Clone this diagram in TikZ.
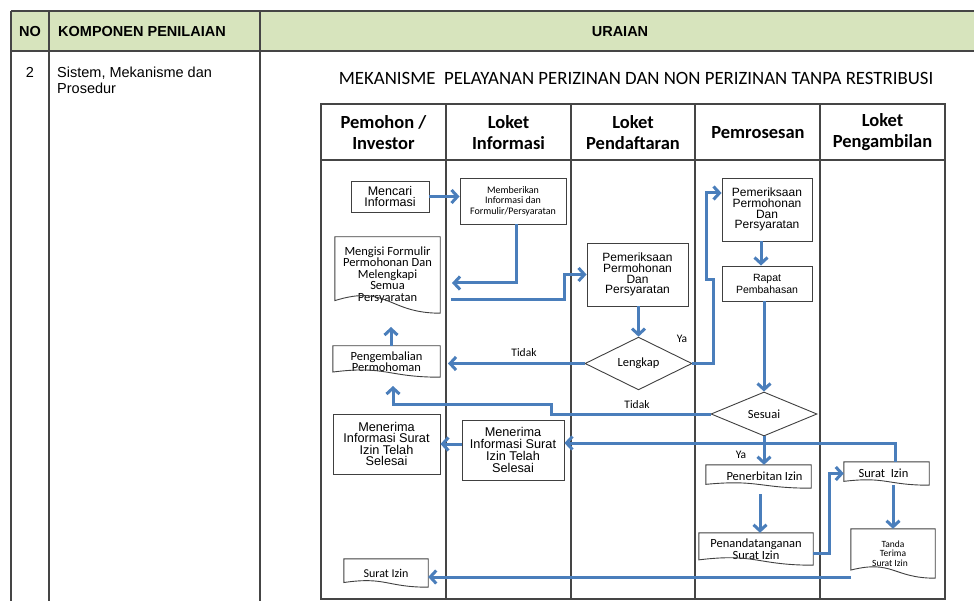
\documentclass[tikz,border=0pt]{standalone}
\usepackage{fontspec}
\setmainfont{Carlito}
\newfontfamily\arialf{Liberation Sans}
\usetikzlibrary{shapes.geometric,arrows.meta,calc}
\definecolor{hdrgreen}{HTML}{D7E4BD}
\definecolor{flowblue}{HTML}{4A7EBB}
\definecolor{linegray}{HTML}{404040}
\definecolor{tablegray}{HTML}{454545}
\newcommand\fs[2]{\fontsize{#1}{#2}\selectfont}
\newcommand\docoutline[1]{%
  \draw[draw=linegray, line width=0.9pt, line join=miter] let \p1=(#1.north), \p2=(#1.south), \n1={\y1-\y2} in
  (#1.south east) -- (#1.north east) -- (#1.north west) -- ($(#1.south west)+(0,0.1646*\n1)$)
  .. controls ($(#1.south)+(0,0.380*\n1)$) and (#1.south) .. (#1.south east) -- cycle;}
\tikzset{
  box/.style={draw=linegray, line width=0.9pt, rectangle, inner sep=0pt, align=center},
  docbox/.style={rectangle, inner sep=0pt, align=center},
  dia/.style={draw=linegray, line width=0.9pt, diamond, inner sep=0pt, align=center},
  flow/.style={draw=flowblue, line width=3pt, -{Straight Barb[length=6pt,width=13pt]}},
  lbl/.style={inner sep=0pt, font=\fs{11.5}{13}},
  lane/.style={draw=tablegray, line width=1.1pt},
  tab/.style={draw=tablegray, line width=1.1pt},
  lanehead/.style={inner sep=0pt, align=center, font=\fs{18.5}{21}\bfseries},
}
\begin{document}
\begin{tikzpicture}[x=1pt,y=-1pt]
\useasboundingbox (0,0) rectangle (974,601);
\fill[white] (0,0) rectangle (974,601);
% table
\fill[hdrgreen] (11,11) rectangle (990,51);
\draw[tab] (11,11) -- (990,11);
\draw[tab] (11,51) -- (990,51);
\draw[tab] (11,11) -- (11,610);
\draw[tab] (49,11) -- (49,610);
\draw[tab] (260,11) -- (260,610);
\node[inner sep=0pt, font=\arialf\bfseries\fs{14.5}{16}] (hno) at (30,32) {NO};
\node[inner sep=0pt, anchor=west, font=\arialf\bfseries\fs{14.5}{16}] (hkomp) at (58,32) {KOMPONEN PENILAIAN};
\node[inner sep=0pt, font=\arialf\bfseries\fs{14.5}{16}] (huraian) at (620,32) {URAIAN};
\node[inner sep=0pt, font=\arialf\fs{14.5}{16}] (no2) at (30,72) {2};
\node[inner sep=0pt, anchor=west, align=left, font=\arialf\fs{14.5}{16}] (sistem) at (57,80) {Sistem, Mekanisme dan\\Prosedur};
\node[inner sep=0pt, font=\fs{18.8}{20}] (title) at (636,78) {MEKANISME\ \ PELAYANAN PERIZINAN DAN NON PERIZINAN TANPA RESTRIBUSI};
% swimlanes
\draw[lane] (321,104) rectangle (945,599);
\draw[lane] (321,160) -- (945,160);
\foreach \xx in {446,571,695,820} \draw[lane] (\xx,104) -- (\xx,599);
\node[lanehead] (lh1) at (383.5,132.5) {Pemohon /\\Investor};
\node[lanehead] (lh2) at (508.5,132.5) {Loket\\Informasi};
\node[lanehead] (lh3) at (633,132.5) {Loket\\Pendaftaran};
\node[lanehead] (lh4) at (758,132.5) {Pemrosesan};
\node[lanehead] (lh5) at (882.5,132.5) {Loket\\Pengambilan};
% nodes
\node[box, minimum width=78pt, minimum height=31pt, font=\arialf\fs{12.5}{11.5}] (mencari) at (390,196.5) {Mencari\\Informasi};
\node[box, minimum width=106pt, minimum height=46pt, font=\fs{10}{10.5}] (memberikan) at (513,201) {Memberikan\\Informasi dan\\Formulir/Persyaratan};
\node[docbox, minimum width=105pt, minimum height=76pt, font=\fs{12.5}{11.5}] (mengisi) at (387.5,275) {Mengisi Formulir\\Permohonan Dan\\Melengkapi\\Semua\\Persyaratan};
\node[docbox, minimum width=107pt, minimum height=31pt, font=\fs{12.5}{11.5}] (peng) at (386.5,361.5) {Pengembalian\\Permohoman};
\node[box, minimum width=101pt, minimum height=63pt, font=\arialf\fs{12}{10.8}] (pem1) at (637.5,274.5) {Pemeriksaan\\Permohonan\\Dan\\Persyaratan};
\node[dia, minimum width=107pt, minimum height=45pt, font=\fs{12.5}{13}] (lengkap) at (638.5,363.5) {Lengkap};
\node[box, minimum width=90pt, minimum height=63pt, font=\arialf\fs{12}{10.8}] (pem2) at (767,209.5) {Pemeriksaan\\Permohonan\\Dan\\Persyaratan};
\node[box, minimum width=90pt, minimum height=35pt, font=\arialf\fs{10.5}{12}] (rapat) at (767,283.5) {Rapat\\Pembahasan};
\node[dia, minimum width=106pt, minimum height=44pt, font=\fs{12.5}{13}] (sesuai) at (764,414) {Sesuai};
\node[box, minimum width=107pt, minimum height=60pt, font=\arialf\fs{12.7}{11.5}] (menerima1) at (386.5,444) {Menerima\\Informasi Surat\\Izin Telah\\Selesai};
\node[box, minimum width=102pt, minimum height=60pt, font=\arialf\fs{12.7}{12}] (menerima2) at (513,450) {Menerima\\Informasi Surat\\Izin Telah\\Selesai};
\node[docbox, minimum width=105pt, minimum height=23pt, font=\fs{12.5}{12}] (penerbitan) at (758.5,476.5) {\hspace*{12pt}Penerbitan Izin};
\node[docbox, minimum width=114pt, minimum height=32pt, font=\fs{12.5}{11.5}] (penanda) at (756,549) {Penandatanganan\\Surat Izin};
\node[docbox, minimum width=85pt, minimum height=23pt, font=\fs{12.5}{12}] (suratR) at (886.5,473.5) {Surat\ \ Izin\hspace*{6pt}};
\node[docbox, minimum width=84pt, minimum height=49pt, font=\fs{9.5}{9.7}] (tanda) at (893,553.5) {Tanda\\Terima\\Surat Izin\hspace*{6pt}};
\node[docbox, minimum width=84pt, minimum height=28pt, font=\fs{12}{12}] (suratL) at (386,573) {Surat Izin};
\docoutline{mengisi}
\docoutline{peng}
\docoutline{penerbitan}
\docoutline{penanda}
\docoutline{suratR}
\docoutline{tanda}
\docoutline{suratL}
% labels
\node[lbl] (tidak1) at (524,353) {Tidak};
\node[lbl] (ya1) at (682,339) {Ya};
\node[lbl] (tidak2) at (637,405) {Tidak};
\node[lbl] (ya2) at (741,455) {Ya};
% waypoints
\coordinate (mengisiIn) at (452,283);
\coordinate (mengisiOut) at (451,300);
\coordinate (mengisiBot) at (391,327);
\coordinate (pengIn) at (448,363.5);
\coordinate (pengBot) at (393,386);
\coordinate (penerbitBot) at (760,494);
\coordinate (k1) at (706,193);
\coordinate (k2) at (895,443);
\coordinate (k3) at (851,577);
% connectors
\draw[flow] (mencari.east) -- (mencari.east -| memberikan.west);
\draw[flow] ([xshift=3pt]memberikan.south) |- (mengisiIn);
\draw[flow] (mengisiOut) -- (564,300) |- (pem1.west);
\draw[flow] (pem1.south -| lengkap.north) -- (lengkap.north);
\draw[flow] (lengkap.west) -- (pengIn);
\draw[flow] (peng.north -| mengisiBot) -- (mengisiBot);
\draw[flow] (lengkap.east) -- (713,363.5) -- (713,280) -- (706,280) -- (k1) -- (k1 -| pem2.west);
\draw[flow] ([xshift=-6pt]pem2.south) -- ([xshift=-6pt]rapat.north);
\draw[flow] (rapat.south -| sesuai.north) -- (sesuai.north);
\draw[flow] (sesuai.west) -- (551,414) -- (551,404) -| (pengBot);
\draw[flow] (sesuai.south) -- (sesuai.south |- penerbitan.north);
\draw[flow] (k2 |- suratR.north) -- (k2) -- (k2 -| menerima2.east);
\draw[flow] (penerbitBot) -- (penerbitBot |- penanda.north);
\draw[flow] ([yshift=-4pt]penanda.east) -- (829,553) |- (suratR.west);
\draw[flow] (tanda.north |- suratR.south) -- (tanda.north);
\draw[flow] (k3) -- (k3 -| suratL.east);
\draw[flow] (menerima1.east -| menerima2.west) -- (menerima1.east);
\end{tikzpicture}
\end{document}
